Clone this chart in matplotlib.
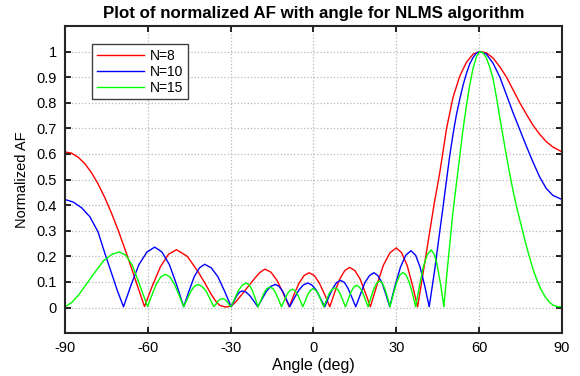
import matplotlib
matplotlib.use("Agg")
import matplotlib.pyplot as plt

# values (angle in deg, normalized AF)
red_deg = [-90, -87.6, -85.2, -82.8, -80.4, -78.0, -75.6, -73.2, -70.8, -68.4, -66.0, -63.6, -61.2,
           -58.3, -55.4, -52.5, -49.6, -45.7, -41.8, -39.3, -36.9, -35.2, -33.9,
           -31.8, -29.7, -28.0, -26.1, -23.6, -21.3, -19.4, -17.6, -15.4, -13.2, -11.0, -8.8,
           -7.0, -5.2, -3.4, -1.6, 0.3, 2.1, 4.0, 5.9,
           7.7, 9.5, 11.3, 13.1, 15.0, 16.9, 18.7, 20.6,
           23.0, 25.3, 27.7, 30.0, 31.9, 33.9, 35.8, 37.7,
           39.7, 41.7, 43.7, 45.7, 48.2, 50.5, 53.0, 55.4, 57.8, 60.2,
           62.6, 65.0, 67.5, 69.9, 72.3, 74.7, 77.1, 79.5, 81.9, 84.3, 86.7, 90.0]
red_af = [0.608, 0.603, 0.587, 0.562, 0.527, 0.483, 0.430, 0.370, 0.304, 0.232, 0.157, 0.080, 0.004,
          0.086, 0.160, 0.208, 0.226, 0.200, 0.140, 0.095, 0.049, 0.022, 0.008,
          0.002, 0.006, 0.024, 0.049, 0.083, 0.114, 0.137, 0.150, 0.138, 0.106, 0.057, 0.003,
          0.052, 0.096, 0.125, 0.136, 0.125, 0.096, 0.052, 0.003,
          0.060, 0.111, 0.144, 0.157, 0.144, 0.111, 0.060, 0.003,
          0.089, 0.165, 0.214, 0.233, 0.214, 0.165, 0.089, 0.003,
          0.135, 0.270, 0.405, 0.525, 0.700, 0.820, 0.905, 0.958, 0.990, 1.000,
          0.995, 0.975, 0.940, 0.900, 0.850, 0.800, 0.755, 0.712, 0.677, 0.648, 0.627, 0.608]

blue_deg = [-90, -87, -84, -81, -78, -75.5, -73, -71, -68.8,
            -66.0, -63.2, -60.3, -57.5, -54.9, -52.2, -49.6, -47.0,
            -45.1, -43.2, -41.3, -39.4, -37.0, -34.6, -32.2, -29.8,
            -28.8, -27.8, -26.8, -25.8, -24.4, -23.0, -21.6, -20.2,
            -18.6, -17.0, -15.4, -13.8, -12.5, -11.2, -9.9, -8.6,
            -7.0, -5.3, -3.7, -2.1, -0.6, 1.0, 2.5, 4.1,
            5.5, 7.0, 8.4, 9.8, 11.2, 12.5, 13.9, 15.3,
            17.0, 18.6, 20.3, 21.9, 23.3, 24.8, 26.2, 27.6,
            29.5, 31.5, 33.4, 35.3, 37.0, 38.6, 40.3, 41.9,
            43.8, 45.7, 47.0, 48.2, 49.3, 50.5, 51.7, 53.0, 54.2, 55.4, 56.6, 57.8, 59.0, 60.2,
            62.6, 65.0, 67.5, 69.9, 72.3, 74.7, 77.1, 79.5, 81.9, 84.3, 86.7, 90.0]
blue_af = [0.422, 0.412, 0.390, 0.355, 0.295, 0.210, 0.130, 0.065, 0.003,
           0.090, 0.168, 0.217, 0.236, 0.217, 0.168, 0.090, 0.003,
           0.064, 0.120, 0.155, 0.169, 0.155, 0.120, 0.064, 0.003,
           0.025, 0.046, 0.060, 0.065, 0.060, 0.046, 0.025, 0.003,
           0.034, 0.064, 0.083, 0.090, 0.083, 0.064, 0.034, 0.003,
           0.036, 0.068, 0.088, 0.096, 0.088, 0.068, 0.036, 0.003,
           0.040, 0.075, 0.098, 0.106, 0.098, 0.075, 0.040, 0.003,
           0.052, 0.097, 0.125, 0.136, 0.125, 0.097, 0.052, 0.003,
           0.084, 0.158, 0.204, 0.222, 0.204, 0.158, 0.084, 0.003,
           0.140, 0.295, 0.400, 0.500, 0.590, 0.675, 0.750, 0.815, 0.870, 0.915, 0.952, 0.977, 0.994, 1.000,
           0.990, 0.955, 0.900, 0.830, 0.760, 0.695, 0.630, 0.568, 0.510, 0.465, 0.438, 0.422]

green_deg = [-90, -87.5, -85, -82, -79, -76, -73, -70.4, -68, -65.6, -63, -60.1,
             -58.5, -56.9, -55.3, -53.7, -52.0, -50.4, -48.7, -47.0,
             -45.7, -44.4, -43.1, -41.8, -40.4, -38.9, -37.5, -36.1,
             -35.3, -34.6, -33.8, -33.0, -32.2, -31.4, -30.7, -29.9,
             -28.5, -27.1, -25.7, -24.3, -23.2, -22.2, -21.1, -20.1,
             -19.0, -17.9, -16.9, -15.8, -14.7, -13.7, -12.6, -11.6,
             -10.6, -9.6, -8.6, -7.6, -6.7, -5.8, -4.8, -3.9,
             -2.9, -2.0, -1.0, -0.1, 0.8, 1.8, 2.7, 3.7,
             4.7, 5.7, 6.7, 7.7, 8.7, 9.6, 10.6, 11.6,
             12.6, 13.6, 14.6, 15.6, 16.6, 17.7, 18.7, 19.8,
             20.8, 21.9, 22.9, 24.0, 24.9, 25.8, 26.8, 27.7,
             28.9, 30.1, 31.2, 32.4, 33.6, 34.7, 35.9, 37.0,
             38.4, 39.8, 41.2, 42.6, 43.8, 44.9, 46.1, 47.2,
             48.2, 49.3, 50.5, 51.7, 53.0, 54.2, 55.4, 56.6, 57.8, 59.0, 60.2,
             61.4, 62.6, 63.8, 65.0, 66.2, 67.5, 68.7, 69.9, 71.1, 72.3, 73.5,
             75.0, 76.5, 78.0, 79.5, 81.0, 82.5, 84.0, 85.5, 87.0, 88.5, 90.0]
green_af = [0.003, 0.020, 0.050, 0.095, 0.140, 0.183, 0.208, 0.217, 0.205, 0.165, 0.090, 0.004,
            0.049, 0.092, 0.120, 0.130, 0.120, 0.092, 0.049, 0.003,
            0.034, 0.064, 0.083, 0.090, 0.083, 0.064, 0.034, 0.003,
            0.013, 0.025, 0.032, 0.035, 0.032, 0.025, 0.013, 0.003,
            0.036, 0.068, 0.088, 0.096, 0.088, 0.068, 0.036, 0.003,
            0.030, 0.057, 0.074, 0.080, 0.074, 0.057, 0.030, 0.003,
            0.027, 0.051, 0.066, 0.072, 0.066, 0.051, 0.027, 0.003,
            0.028, 0.053, 0.068, 0.074, 0.068, 0.053, 0.028, 0.003,
            0.029, 0.055, 0.071, 0.077, 0.071, 0.055, 0.029, 0.003,
            0.033, 0.062, 0.080, 0.087, 0.080, 0.062, 0.033, 0.003,
            0.040, 0.074, 0.096, 0.104, 0.096, 0.074, 0.040, 0.003,
            0.052, 0.097, 0.126, 0.137, 0.126, 0.097, 0.052, 0.003,
            0.086, 0.160, 0.207, 0.225, 0.207, 0.160, 0.086, 0.003,
            0.120, 0.243, 0.373, 0.480, 0.594, 0.700, 0.790, 0.870, 0.935, 0.980, 1.000,
            0.995, 0.975, 0.940, 0.895, 0.825, 0.740, 0.665, 0.590, 0.520, 0.455, 0.395,
            0.330, 0.265, 0.205, 0.150, 0.105, 0.068, 0.040, 0.020, 0.008, 0.003, 0.004]

labels = ["N=8", "N=10", "N=15"]
x_ticks = [-90, -60, -30, 0, 30, 60, 90]
y_ticks = [0, 0.1, 0.2, 0.3, 0.4, 0.5, 0.6, 0.7, 0.8, 0.9, 1]
y_ticklabels = ["0", "0.1", "0.2", "0.3", "0.4", "0.5", "0.6", "0.7", "0.8", "0.9", "1"]

plt.rcParams["font.family"] = ["Liberation Sans", "DejaVu Sans"]
plt.rcParams["font.size"] = 10
plt.rcParams["axes.unicode_minus"] = False

fig = plt.figure(figsize=(5.8, 3.76), dpi=100)
ax = fig.add_axes([0.112, 0.114, 0.857, 0.817])

ax.plot(red_deg, red_af, color=(1, 0, 0), lw=1.0, label=labels[0])
ax.plot(blue_deg, blue_af, color=(0, 0, 1), lw=1.0, label=labels[1])
ax.plot(green_deg, green_af, color=(0, 1, 0), lw=1.0, label=labels[2])

ax.set_xlim(-90, 90)
ax.set_ylim(-0.1, 1.1)
ax.set_xticks(x_ticks)
ax.set_yticks(y_ticks)
ax.set_yticklabels(y_ticklabels)
ax.grid(True, color="#b8b8b8", linestyle=":", linewidth=0.9)
ax.tick_params(direction="in", length=4, width=1.2, top=True, right=True,
               labelsize=10.5, pad=6)
for sp in ax.spines.values():
    sp.set_linewidth(1.5)
    sp.set_color("#262626")

ax.set_title("Plot of normalized AF with angle for NLMS algorithm",
             fontsize=12.2, fontweight="bold", pad=6)
ax.set_xlabel("Angle (deg)", fontsize=11.5, labelpad=2)
ax.set_ylabel("Normalized AF", fontsize=10.5, labelpad=5)

leg = ax.legend(loc="upper left", bbox_to_anchor=(0.055, 0.94), borderaxespad=0,
                fancybox=False, framealpha=1, edgecolor="#404040",
                handlelength=3.4, handletextpad=0.4, labelspacing=0.12,
                borderpad=0.35, fontsize=10)
leg.get_frame().set_linewidth(1.0)

fig.savefig("out.png", dpi=100)
